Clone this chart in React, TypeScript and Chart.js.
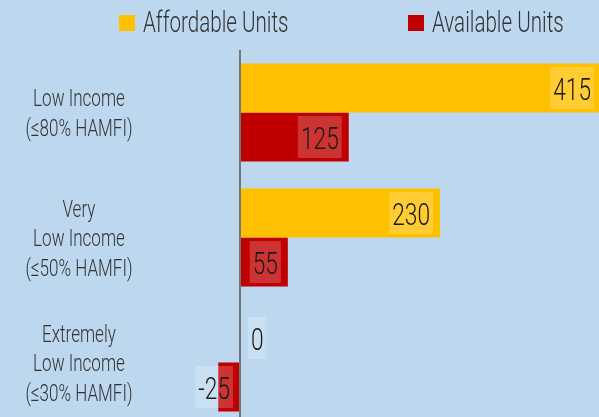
import React, { useEffect, useRef } from "react";
import { Chart, registerables } from "chart.js";

Chart.register(...registerables);

const categories = [
  ["Low Income", "(≤80% HAMFI)"],
  ["Very", "Low Income", "(≤50% HAMFI)"],
  ["Extremely", "Low Income", "(≤30% HAMFI)"],
];
const seriesNames = ["Affordable Units", "Available Units"];
const affordableUnits = [415, 230, 0];
const availableUnits = [125, 55, -25];
const seriesColors = ["#FFC000", "#C00000"];

const FONT = "Roboto, 'Liberation Sans', sans-serif";
const SX = 0.71;
const BG = "#BDD7EE";
const TEXT = "#333333";

function drawScaled(ctx: any, text: string, x: number, y: number, align: string) {
  ctx.save();
  ctx.translate(x, y);
  ctx.scale(SX, 1);
  ctx.textAlign = align;
  ctx.fillText(text, 0, 0);
  ctx.restore();
}

const bgPlugin = {
  id: "bgFill",
  beforeDraw(chart: any) {
    const ctx = chart.ctx;
    ctx.save();
    ctx.fillStyle = BG;
    ctx.fillRect(0, 0, chart.width, chart.height);
    ctx.restore();
  },
};

const legendPlugin = {
  id: "topLegend",
  afterDraw(chart: any) {
    const ctx = chart.ctx;
    const lefts = [119, 408];
    ctx.save();
    ctx.font = `300 29px ${FONT}`;
    ctx.textBaseline = "alphabetic";
    chart.data.datasets.forEach((ds: any, i: number) => {
      const x = lefts[i];
      ctx.fillStyle = ds.backgroundColor;
      ctx.fillRect(x, 15, 16, 16);
      ctx.fillStyle = TEXT;
      drawScaled(ctx, ds.label, x + 24, 32, "left");
    });
    ctx.restore();
  },
};

const categoryLabelPlugin = {
  id: "categoryLabels",
  afterDraw(chart: any) {
    const ctx = chart.ctx;
    const yScale = chart.scales.y;
    const labels = chart.data.labels;
    ctx.save();
    ctx.font = `300 24px ${FONT}`;
    ctx.textBaseline = "alphabetic";
    ctx.fillStyle = TEXT;
    const centerX = yScale.left + (yScale.right - yScale.left) * 0.516;
    labels.forEach((lines: string[], i: number) => {
      const cy = yScale.getPixelForValue(i);
      const n = lines.length;
      lines.forEach((line: string, j: number) => {
        const baseline = cy + (j - (n - 1) / 2) * 29.5 + 8.5;
        drawScaled(ctx, line, centerX, baseline, "center");
      });
    });
    ctx.restore();
  },
};

const valueLabelPlugin = {
  id: "valueLabels",
  afterDatasetsDraw(chart: any) {
    const ctx = chart.ctx;
    const zero = chart.scales.x.getPixelForValue(0);
    ctx.save();
    ctx.font = `300 32px ${FONT}`;
    chart.data.datasets.forEach((ds: any, di: number) => {
      const meta = chart.getDatasetMeta(di);
      meta.data.forEach((bar: any, i: number) => {
        const v = ds.data[i];
        const text = String(v);
        const tw = ctx.measureText(text).width * SX;
        const bw = tw + 6;
        const bh = 42;
        const len = Math.abs(bar.x - bar.base);
        let left: number;
        if (len >= bw + 7) left = v >= 0 ? bar.x - 7 - bw : bar.x + 7;
        else left = v >= 0 ? zero + 8 : zero - 7 - bw;
        const top = bar.y - bh / 2;
        ctx.fillStyle = "rgba(255,255,255,0.2)";
        ctx.fillRect(left, top, bw, bh);
        ctx.fillStyle = "#1a1a1a";
        ctx.textBaseline = "alphabetic";
        drawScaled(ctx, text, left + bw / 2, bar.y + 11.5, "center");
      });
    });
    ctx.restore();
  },
};

export default function App() {
  const ref = useRef<HTMLCanvasElement>(null);
  useEffect(() => {
    if (!ref.current) return;
    const chart = new Chart(ref.current, {
      type: "bar",
      data: {
        labels: categories,
        datasets: [
          { label: seriesNames[0], data: affordableUnits, backgroundColor: seriesColors[0] },
          { label: seriesNames[1], data: availableUnits, backgroundColor: seriesColors[1] },
        ],
      },
      options: {
        indexAxis: "y",
        animation: false,
        responsive: false,
        devicePixelRatio: 1,
        categoryPercentage: 0.784,
        barPercentage: 1,
        layout: { padding: { top: 50, left: 0, right: 0, bottom: 0 } },
        plugins: { legend: { display: false }, tooltip: { enabled: false } },
        scales: {
          x: {
            min: -100,
            max: 415,
            ticks: { display: false, stepSize: 100 },
            border: { display: false },
            grid: {
              drawTicks: false,
              lineWidth: 2,
              color: (c: any) => (c.tick && c.tick.value === 0 ? "#767676" : "rgba(0,0,0,0)"),
            },
          },
          y: {
            border: { display: false },
            grid: { display: false, drawTicks: false },
            ticks: { display: false },
            afterFit: (scale: any) => {
              scale.width = 153;
              scale.paddingTop = 0;
              scale.paddingBottom = 0;
            },
          },
        },
      } as any,
      plugins: [bgPlugin, valueLabelPlugin, categoryLabelPlugin, legendPlugin],
    });
    return () => chart.destroy();
  }, []);
  return (
    <div
      style={{
        position: "fixed",
        top: 0,
        left: 0,
        width: 599,
        height: 417,
        overflow: "hidden",
        background: BG,
      }}
    >
      <canvas
        ref={ref}
        width={601}
        height={425}
        style={{ position: "absolute", top: 0, left: 0, width: 601, height: 425 }}
      />
    </div>
  );
}
